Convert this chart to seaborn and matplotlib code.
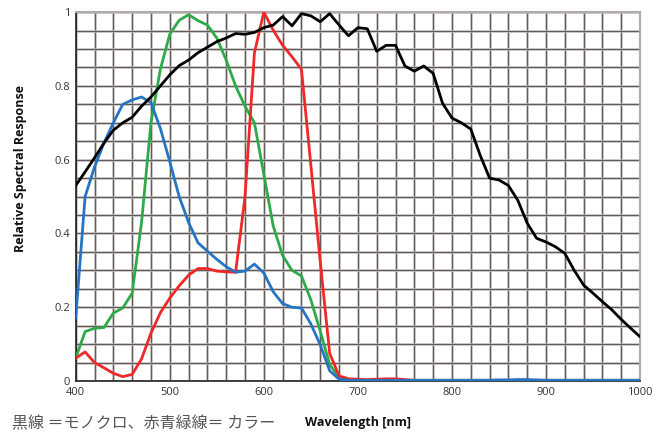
import numpy as np
import pandas as pd
import matplotlib
matplotlib.use("Agg")
import matplotlib.pyplot as plt
import seaborn as sns

wavelength = list(range(400, 1001, 10))

mono = [0.53, 0.567, 0.605, 0.645, 0.68, 0.70, 0.715, 0.745, 0.77, 0.80,
        0.83, 0.855, 0.87, 0.89, 0.905, 0.92, 0.93, 0.942, 0.94, 0.945,
        0.958, 0.965, 0.988, 0.963, 0.996, 0.99, 0.974, 0.996, 0.965, 0.936,
        0.958, 0.955, 0.894, 0.91, 0.91, 0.854, 0.84, 0.854, 0.834, 0.753,
        0.713, 0.70, 0.683, 0.612, 0.55, 0.545, 0.53, 0.49, 0.428, 0.387,
        0.377, 0.364, 0.346, 0.30, 0.26, 0.238, 0.215, 0.193, 0.167, 0.143,
        0.12]

blue = [0.17, 0.50, 0.58, 0.645, 0.70, 0.75, 0.762, 0.77, 0.755, 0.685,
        0.595, 0.50, 0.43, 0.375, 0.352, 0.33, 0.31, 0.295, 0.298, 0.317,
        0.293, 0.242, 0.21, 0.20, 0.198, 0.155, 0.098, 0.028, 0.005, 0.002,
        0.002, 0.002, 0.002, 0.002, 0.002, 0.002, 0.002, 0.002, 0.002, 0.002,
        0.002, 0.002, 0.002, 0.002, 0.002, 0.003, 0.003, 0.004, 0.004, 0.003,
        0.002, 0.002, 0.002, 0.002, 0.002, 0.002, 0.002, 0.002, 0.002, 0.002,
        0.002]

green = [0.062, 0.134, 0.143, 0.145, 0.184, 0.198, 0.238, 0.43, 0.70, 0.845,
         0.94, 0.978, 0.993, 0.977, 0.965, 0.93, 0.87, 0.80, 0.745, 0.70,
         0.56, 0.42, 0.34, 0.30, 0.285, 0.22, 0.135, 0.045, 0.01, 0.003,
         0.002, 0.002, 0.002, 0.002, 0.002, 0.002, 0.002, 0.002, 0.002, 0.002,
         0.002, 0.002, 0.002, 0.002, 0.002, 0.002, 0.002, 0.002, 0.002, 0.002,
         0.002, 0.002, 0.002, 0.002, 0.002, 0.002, 0.002, 0.002, 0.002, 0.002,
         0.002]

red = [0.062, 0.079, 0.05, 0.036, 0.021, 0.012, 0.018, 0.06, 0.13, 0.185,
       0.225, 0.258, 0.287, 0.305, 0.305, 0.298, 0.296, 0.295, 0.50, 0.89,
       1.0, 0.951, 0.91, 0.879, 0.845, 0.585, 0.323, 0.075, 0.014, 0.006,
       0.005, 0.004, 0.005, 0.006, 0.006, 0.004, 0.002, 0.002, 0.002, 0.002,
       0.002, 0.002, 0.002, 0.002, 0.002, 0.002, 0.002, 0.002, 0.002, 0.002,
       0.002, 0.002, 0.002, 0.002, 0.002, 0.002, 0.002, 0.002, 0.002, 0.002,
       0.002]

series_names = ["mono", "blue", "green", "red"]
series_colors = ["#000000", "#2674c4", "#2eaa48", "#f02828"]

x_ticks = [400, 500, 600, 700, 800, 900, 1000]
y_ticks = [0, 0.2, 0.4, 0.6, 0.8, 1.0]
y_tick_labels = ["0", "0.2", "0.4", "0.6", "0.8", "1"]

df = pd.DataFrame({
    "wavelength": wavelength * 4,
    "value": mono + blue + green + red,
    "series": sum([[n] * len(wavelength) for n in series_names], []),
})

sns.set_theme(style="white")
plt.rcParams['font.family'] = ['Open Sans', 'Noto Sans CJK JP', 'DejaVu Sans']

fig = plt.figure(figsize=(6.64, 4.34), dpi=100)
ax = fig.add_axes([0.114, 0.122, 0.85, 0.850])

# grid
for xv in range(400, 1001, 20):
    ax.axvline(xv, color="#bdb7b7", lw=1.8, zorder=0)
    ax.axvline(xv, color="#5e5858", lw=0.7, zorder=0)
for yv in np.arange(0, 1.0001, 0.05):
    ax.axhline(yv, color="#bdb7b7", lw=1.8, zorder=0)
    ax.axhline(yv, color="#5e5858", lw=0.7, zorder=0)

sns.lineplot(data=df, x="wavelength", y="value", hue="series",
             palette=dict(zip(series_names, series_colors)),
             hue_order=["green", "red", "blue", "mono"],
             linewidth=2.0, legend=False, ax=ax, zorder=3)

ax.set_xlim(400, 1000)
ax.set_ylim(0, 1)
ax.set_xticks(x_ticks)
ax.set_yticks(y_ticks)
ax.set_yticklabels(y_tick_labels)
ax.tick_params(axis="both", labelsize=8, colors="#333333", length=0, pad=4)

for s in ["top", "right"]:
    ax.spines[s].set_color("#b0aaaa")
    ax.spines[s].set_linewidth(1.5)
for s in ["left", "bottom"]:
    ax.spines[s].set_color("#222222")
    ax.spines[s].set_linewidth(1.2)

ax.set_xlabel("Wavelength [nm]", fontsize=9, fontweight="bold", color="#111111", labelpad=13)
ax.set_ylabel("Relative Spectral Response", fontsize=9, fontweight="bold", color="#111111", labelpad=20)
ax.yaxis.set_label_coords(-0.087, 0.575)

fig.text(0.018, 0.014, "黒線 ＝モノクロ、赤青緑線＝ カラー", fontsize=11.5, color="#555555",
         family=['Noto Sans CJK JP', 'DejaVu Sans'])

fig.savefig("out.png", dpi=100)
